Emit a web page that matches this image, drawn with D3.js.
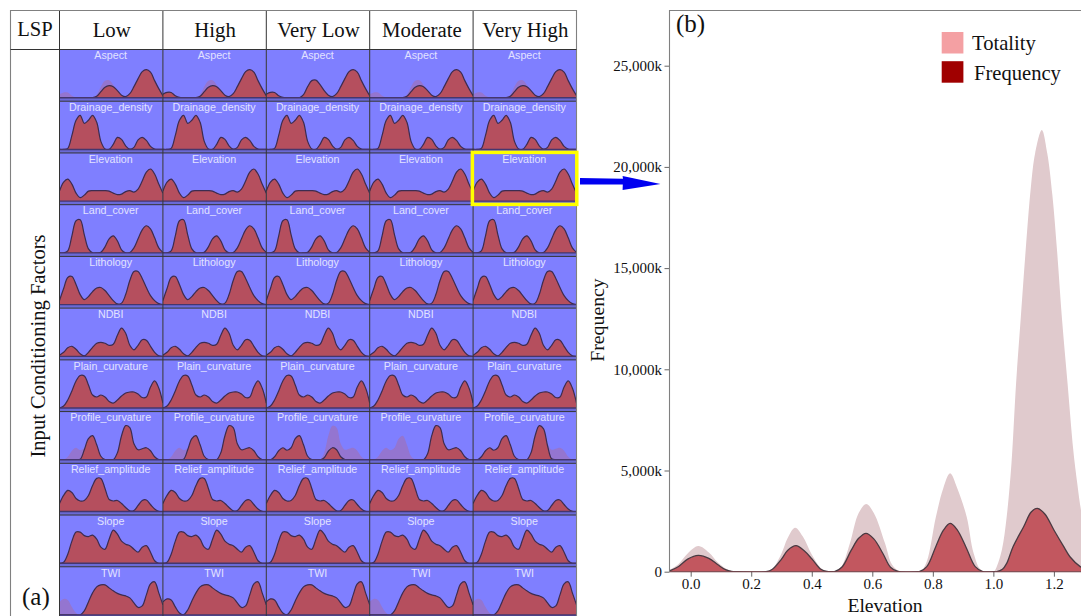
<!DOCTYPE html>
<html><head><meta charset="utf-8">
<script src="https://cdnjs.cloudflare.com/ajax/libs/d3/7.8.5/d3.min.js"></script>
<style>
html,body{margin:0;padding:0;background:#fff;overflow:hidden}
svg{display:block}
</style></head><body>
<svg id="c" width="1081" height="616"></svg>
<script>
// ---------- DATA ----------
const lspClasses = ["Low","High","Very Low","Moderate","Very High"];
const factors = ["Aspect","Drainage_density","Elevation","Land_cover","Lithology","NDBI","Plain_curvature","Profile_curvature","Relief_amplitude","Slope","TWI"];
// panel x positions (percent of panel width) shared by the curves below
const gridU = [0,4,8,12,16,20,24,28,32,36,40,44,48,52,56,60,64,68,72,76,80,84,88,92,96,100];

const aspectTotal = [3.5,5.3,5.2,2,.3,0,0,0,0,3,11,17,17.5,13,7,2.5,1,4,11,19,26,28,25.5,17,9,2];
const aspectMid   = [0,0,0,0,0,0,0,0,0,1.5,6,10.5,12,11,7,2.5,1,4,11,19,26,28,25.5,17,9,2];
const aspectLeft  = [3.5,5.3,5.2,2,.3,0,0,0,0,1.5,6,10.5,12,11,7,2.5,1,4,11,19,26,28,25.5,17,9,2];
const drainage    = [0,0,1,14,29,34,26,29,34,27,8,.5,0,5,12,10,3.5,.3,2,9.5,12,9,3,.3,0,0];
const elevation   = [10,19,22,17,8,3.5,6,10,10.5,10.5,10.5,10.5,10,8,6.5,7,9.5,10.5,9,12,20,29,32,27,17,8];
const landCover   = [0,0,2,17,32,33,18,4,.2,0,.5,6,14,17,12,3,0,.3,5,14,23,27,24,15,5,.5];
const lithology   = [4,16,27,28,20,10,5,8,13,16.5,17,14,9,4,.7,1.5,10,24,33,33,26,17,9,4,1,0];
const ndbi        = [1,4,8.5,10,7,2.5,.5,4,9,13,14,13,11,12,21,28,23,11,6.5,11,16.5,16,10,4,.5,0];
const plainCurv   = [0,2,8,17,27,32.5,32,23,13,11,13,11,6.5,5,8,12,15,16,16,14,10.5,11,21,27,20,5];
const profTotal   = [0,0,3,9,12,9.5,12,21,24,15,3.5,.2,0,0,7,24,34,32,16,10,11,12,9,3,.2,0];
const profLow     = [0,0,0,0,0,.5,10,21,24,15,3.5,.2,0,0,7,24,34,32,16,10,11,12,9,3,.2,0];
const profVeryLow = [0,0,3,9,12,9.5,12,21,24,15,3.5,.2,0,0,2,8.5,12,10,3,.3,0,0,0,0,0,0];
const profModer   = [0,0,0,0,0,0,0,0,0,0,0,0,0,0,6,24,34,32,16,10,11,12,9,3,.2,0];
const profVeryHi  = [0,0,3,9,12,9.5,12,21,24,15,3.5,.2,0,0,7,24,34,31,14,1,0,0,0,0,0,0];
const relief      = [8,16,21,19,13,10.5,11,16,26,33,33,23,12,10.5,11,8,4,.7,1,6,11,11.5,7,2.5,.2,0];
const slope       = [0,1,9,22,31,31,27.5,26.5,28,24,16,14,24,33,29,22,19,17.5,14,11,16,17.5,11,2.5,0,0];
const twiTotal    = [13,16,15,8,2,.3,5,14,22,28,30,30,27,24,21.5,20,19,17,12,7.5,9,20,31,33,22,10];
const twiNoLeft   = [0,0,0,0,0,0,4,13,22,28,30,30,27,24,21.5,20,19,17,12,7.5,9,20,31,33,22,10];

// one entry per factor, in the order of `factors`
const totalityByFactor = [aspectTotal,drainage,elevation,landCover,lithology,ndbi,plainCurv,profTotal,relief,slope,twiTotal];
// one row per factor, one entry per class, in the order of `lspClasses`
const frequencyByFactor = [
  [aspectMid,aspectLeft,aspectTotal,aspectMid,aspectMid],
  [drainage,drainage,drainage,drainage,drainage],
  [elevation,elevation,elevation,elevation,elevation],
  [landCover,landCover,landCover,landCover,landCover],
  [lithology,lithology,lithology,lithology,lithology],
  [ndbi,ndbi,ndbi,ndbi,ndbi],
  [plainCurv,plainCurv,plainCurv,plainCurv,plainCurv],
  [profLow,profLow,profVeryLow,profModer,profVeryHi],
  [relief,relief,relief,relief,relief],
  [slope,slope,slope,slope,slope],
  [twiNoLeft,twiTotal,twiTotal,twiNoLeft,twiNoLeft]
];

// panel (b): Elevation
const totalityX = [-.07,-.04,-.01,.025,.06,.09,.12,.14,.16,.25,.27,.30,.32,.345,.37,.40,.43,.45,.47,.48,.50,.526,.555,.58,.605,.642,.665,.69,.75,.76,.78,.81,.835,.857,.88,.912,.935,.96,1.0,1.011,1.028,1.044,1.06,1.075,1.09,1.106,1.124,1.138,1.16,1.178,1.195,1.211,1.227,1.245,1.264,1.277,1.29,1.31];
const totalityY = [80,380,900,1268,950,450,120,20,0,0,150,900,1650,2174,1750,850,180,20,0,0,300,1400,2900,3340,2900,1400,350,20,0,0,500,2700,4150,4860,4150,2700,900,80,0,250,1070,2720,5400,9300,12430,15740,19020,20680,21820,20680,18600,15740,12430,9320,6010,4380,3000,1700];
const frequencyX = [-.07,-.04,-.01,.025,.06,.09,.115,.135,.16,.249,.27,.30,.32,.348,.375,.40,.43,.45,.47,.475,.50,.53,.555,.579,.605,.635,.66,.685,.75,.755,.78,.81,.835,.857,.88,.91,.94,.965,1.0,1.011,1.03,1.044,1.065,1.10,1.125,1.145,1.17,1.20,1.23,1.253,1.287,1.31];
const frequencyY = [40,260,620,806,660,340,100,10,0,0,120,620,1050,1285,1030,640,120,10,0,0,230,1050,1650,1895,1620,900,220,10,0,0,250,1250,2050,2388,2080,1200,250,10,0,0,120,410,1235,2223,2950,3129,2850,2060,1300,740,250,80];
const xTickValues = [0,.2,.4,.6,.8,1,1.2];
const yTickValues = [0,5000,10000,15000,20000,25000];
const legendNames = ["Totality","Frequency"];
const legendColors = ["#f4a0a3","#a00000"];

// ---------- DRAWING ----------
const serif = "'Liberation Serif','Times New Roman',serif";
const sans = "'Liberation Sans',Arial,sans-serif";
const svg = d3.select("#c");

const col = d3.scaleBand().domain(lspClasses).range([59.5,576.5]);
const row = d3.scaleBand().domain(factors).range([49.5,618.5]);
const panelH = 48.2;
const yPanel = d3.scaleLinear().domain([0,48]).range([panelH,0]);
const smooth = d3.curveCatmullRom.alpha(0.5);

const defs = svg.append("defs");
defs.append("clipPath").attr("id","panelClip").append("rect")
  .attr("width",col.bandwidth()).attr("height",panelH);
defs.append("clipPath").attr("id","plotClip").append("rect")
  .attr("x",669.5).attr("y",10.5).attr("width",412).attr("height",561.2);

factors.forEach((f,i)=>{
  lspClasses.forEach((c,j)=>{
    const g = svg.append("g").attr("transform",`translate(${col(c)},${row(f)})`);
    const xPanel = d3.scaleLinear().domain([0,100]).range([0,col.bandwidth()]);
    const area = d3.area().x((d,k)=>xPanel(gridU[k])).y0(yPanel(0)).y1(d=>yPanel(d)).curve(smooth);
    const line = d3.line().x((d,k)=>xPanel(gridU[k])).y(d=>yPanel(d)).curve(smooth);
    g.append("rect").attr("width",col.bandwidth()).attr("height",row.bandwidth()).attr("fill","#7f7fff");
    g.append("rect").attr("y",panelH).attr("width",col.bandwidth()).attr("height",row.bandwidth()-panelH).attr("fill","#6a6ad6");
    const m = g.append("g").attr("clip-path","url(#panelClip)");
    m.append("path").datum(totalityByFactor[i]).attr("d",area).attr("fill","#9475d0");
    m.append("path").datum(frequencyByFactor[i][j]).attr("d",area).attr("fill","#b54f5e");
    m.append("path").datum(frequencyByFactor[i][j]).attr("d",line).attr("fill","none").attr("stroke","#3c2c50").attr("stroke-width",1.2);
    g.append("line").attr("x1",0).attr("x2",col.bandwidth()).attr("y1",panelH).attr("y2",panelH).attr("stroke","#45366e").attr("stroke-width",1.4);
    g.append("text").attr("x",col.bandwidth()/2-0.5).attr("y",9.8).attr("text-anchor","middle")
      .attr("font-family",sans).attr("font-size",10.7).attr("fill","#e2e2ff").text(f);
  });
});

// table lines
const lineColor = "#333";
factors.forEach(f=>{
  svg.append("line").attr("x1",59.5).attr("x2",576.5).attr("y1",row(f)).attr("y2",row(f)).attr("stroke",lineColor).attr("stroke-width",1);
});
lspClasses.forEach(c=>{
  svg.append("line").attr("x1",col(c)).attr("x2",col(c)).attr("y1",10.5).attr("y2",616).attr("stroke",lineColor).attr("stroke-width",1);
  svg.append("text").attr("x",col(c)+col.bandwidth()/2+0.5).attr("y",36.5).attr("text-anchor","middle")
    .attr("font-family",serif).attr("font-size",20.8).attr("fill","#111").text(c);
});
svg.append("path").attr("d","M10.5,616V10.5H576.5V616").attr("fill","none").attr("stroke","#808080").attr("stroke-width",1.1);
svg.append("line").attr("x1",10.5).attr("x2",576.5).attr("y1",49.5).attr("y2",49.5).attr("stroke","#333");
svg.append("text").attr("x",35).attr("y",36).attr("text-anchor","middle").attr("font-family",serif).attr("font-size",20.6).attr("fill","#111").text("LSP");
svg.append("text").attr("transform","translate(44.5,346) rotate(-90)").attr("text-anchor","middle")
  .attr("font-family",serif).attr("font-size",20.6).attr("fill","#111").text("Input Conditioning Factors");
svg.append("text").attr("x",22).attr("y",605).attr("font-family",serif).attr("font-size",25).attr("fill","#111").text("(a)");

// yellow highlight and arrow
svg.append("rect").attr("x",472.4).attr("y",152.4).attr("width",104.4).attr("height",52)
  .attr("fill","none").attr("stroke","#ffff00").attr("stroke-width",3.5);
svg.append("path").attr("d","M580,178 L623,178.8 L622.6,176 L660.5,184 L622.6,190 L622.8,184.5 L580,184.4 Z").attr("fill","#0000f0");

// panel (b)
const x = d3.scaleLinear().domain([-.0707,1.31]).range([669.3,1087.2]);
const y = d3.scaleLinear().domain([0,25000]).range([571.7,65.7]);
const areaB = (xs)=>d3.area().x((d,k)=>x(xs[k])).y0(y(0)).y1(d=>y(d)).curve(smooth);
const lineB = (xs)=>d3.line().x((d,k)=>x(xs[k])).y(d=>y(d)).curve(smooth);
const plot = svg.append("g").attr("clip-path","url(#plotClip)");
plot.append("path").datum(totalityY).attr("d",areaB(totalityX)).attr("fill","#e0cacd");
plot.append("path").datum(frequencyY).attr("d",areaB(frequencyX)).attr("fill","#c2575f");
plot.append("path").datum(frequencyY).attr("d",lineB(frequencyX)).attr("fill","none").attr("stroke","#4a3a42").attr("stroke-width",1.3);

const axB = svg.append("g").attr("transform","translate(0,571.7)")
  .call(d3.axisBottom(x).tickValues(xTickValues).tickFormat(d3.format(".1f")).tickSize(5).tickPadding(2));
const axL = svg.append("g").attr("transform","translate(669.5,0)")
  .call(d3.axisLeft(y).tickValues(yTickValues).tickFormat(d=>d===0?"0":d3.format(",")(d)+"k").tickSize(5).tickPadding(2.5));
[axB,axL].forEach(a=>{
  a.selectAll("text").attr("font-family",serif).attr("font-size",15).attr("fill","#111");
  a.selectAll("line").attr("stroke","#666");
  a.select(".domain").remove();
});
svg.append("line").attr("x1",669.5).attr("x2",1081).attr("y1",571.7).attr("y2",571.7).attr("stroke","#6b3a40").attr("stroke-width",1.1);
svg.append("path").attr("d","M669.5,572V10.5H1081").attr("fill","none").attr("stroke","#808080").attr("stroke-width",1.1);

svg.append("text").attr("x",885).attr("y",611.5).attr("text-anchor","middle").attr("font-family",serif).attr("font-size",19.6).attr("fill","#111").text("Elevation");
svg.append("text").attr("transform","translate(604,320) rotate(-90)").attr("text-anchor","middle").attr("font-family",serif).attr("font-size",19.8).attr("fill","#111").text("Frequency");
svg.append("text").attr("x",676).attr("y",32).attr("font-family",serif).attr("font-size",25).attr("fill","#111").text("(b)");

legendNames.forEach((n,i)=>{
  svg.append("rect").attr("x",941.7).attr("y",32+i*29.2).attr("width",21.7).attr("height",21.5).attr("fill",legendColors[i]);
  svg.append("text").attr("x",i?974:972).attr("y",50+i*30).attr("font-family",serif).attr("font-size",20.6).attr("fill","#111").text(n);
});
</script>
</body></html>
